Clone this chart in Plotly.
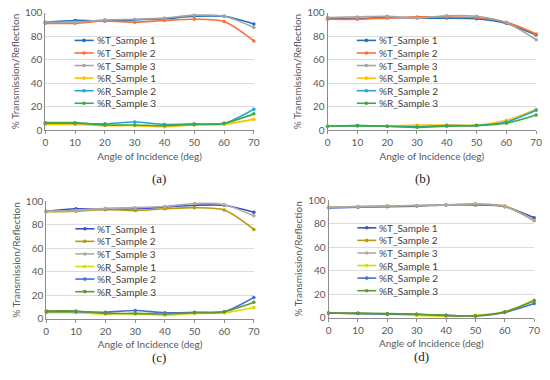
import plotly.graph_objects as go

angles = [0, 10, 20, 30, 40, 50, 60, 70]
series_names = ["%T_Sample 1", "%T_Sample 2", "%T_Sample 3",
                "%R_Sample 1", "%R_Sample 2", "%R_Sample 3"]
panel_labels = ["(a)", "(b)", "(c)", "(d)"]
y_ticks = [0, 20, 40, 60, 80, 100]
x_ticks = [0, 10, 20, 30, 40, 50, 60, 70]

# Panel (a)
a_T1 = [92, 93.5, 93, 94, 95, 97, 97, 90.5]
a_T2 = [91, 91, 93, 92, 93.5, 94.5, 92.5, 76]
a_T3 = [92, 92, 94, 94.5, 95.5, 98, 97, 87.5]
a_R1 = [5, 5, 4, 4, 3, 4.5, 5, 9.5]
a_R2 = [6, 6, 5.5, 7, 5, 5.5, 6, 18]
a_R3 = [6.5, 6.5, 4.5, 4.5, 4, 5, 6, 14]
# Panel (b)
b_T1 = [95, 95, 96, 95.5, 95.5, 95, 91, 81]
b_T2 = [94.5, 94.5, 95.5, 96.5, 96.5, 96, 92, 82]
b_T3 = [96, 96.5, 97, 95.5, 97.5, 97, 91.5, 77]
b_R1 = [3.5, 3.5, 3.5, 4.5, 4.5, 4.5, 8.5, 18]
b_R2 = [3.5, 4, 3.5, 3, 4, 4, 7, 17]
b_R3 = [3.5, 4, 3.5, 2.5, 3.5, 4, 6, 13]
# Panel (c)
c_T1 = [91.5, 93.5, 93, 93.5, 95, 96.5, 96.5, 90.5]
c_T2 = [91, 91.5, 93, 92, 93.5, 94.5, 92.5, 76]
c_T3 = [91.5, 92, 94, 94.5, 95.5, 98, 97, 87.5]
c_R1 = [5, 5, 4, 4, 3, 4.5, 5, 9.5]
c_R2 = [6, 6, 5.5, 7, 5, 5.5, 6, 18]
c_R3 = [6.5, 6.5, 4.5, 4.5, 4, 5, 6, 14]
# Panel (d)
d_T1 = [93.5, 94, 94.5, 95, 96, 96, 94.5, 85]
d_T2 = [94, 94.5, 95, 95.5, 96, 96.5, 95, 82.5]
d_T3 = [94, 94.5, 95, 95.5, 96, 97, 94.5, 83]
d_R1 = [4, 3.5, 3, 2, 1, 2, 5, 15]
d_R2 = [4, 3.5, 3, 3, 2, 1.5, 4.5, 12]
d_R3 = [4, 4, 3.5, 3, 2, 1.5, 5, 14.5]

panels = [
    [a_T1, a_T2, a_T3, a_R1, a_R2, a_R3],
    [b_T1, b_T2, b_T3, b_R1, b_R2, b_R3],
    [c_T1, c_T2, c_T3, c_R1, c_R2, c_R3],
    [d_T1, d_T2, d_T3, d_R1, d_R2, d_R3],
]

colors_ab = ["#2270B8", "#F8703A", "#A5A5A5", "#FFC000", "#22A6D6", "#3CAA44"]
colors_cd = ["#3E52C0", "#B8980E", "#ABABAB", "#D4DE00", "#4472D4", "#64962C"]
panel_colors = [colors_ab, colors_ab, colors_cd, colors_cd]

W, H = 550, 380
# plot area pixel boxes: (x0, x1, ytop, ybottom)
boxes = [
    (43, 255, 7, 128),
    (330, 542, 7, 128),
    (44, 255, 201, 322),
    (331, 540, 200, 321),
]

FONT = "Lato"
fig = go.Figure()
layout = dict(width=W, height=H, margin=dict(l=0, r=0, t=0, b=0),
              paper_bgcolor="white", plot_bgcolor="white", showlegend=False,
              font=dict(family=FONT, size=10, color="#595959"))
annotations = []
shapes = []

for p, data in enumerate(panels):
    x0, x1, yt, yb = boxes[p]
    sfx = "" if p == 0 else str(p + 1)
    xa, ya = "x" + sfx, "y" + sfx
    cols = panel_colors[p]
    for i, vals in enumerate(data):
        fig.add_trace(go.Scatter(
            x=angles, y=vals, mode="lines+markers", name=series_names[i],
            line=dict(color=cols[i], width=1.6, shape="spline", smoothing=0.8),
            marker=dict(color=cols[i], size=3.5),
            xaxis=xa, yaxis=ya, cliponaxis=False))
    layout["xaxis" + sfx] = dict(
        domain=[x0 / W, x1 / W], range=[0, 70], tickvals=x_ticks,
        anchor=ya, showgrid=False, zeroline=False, showline=True,
        linecolor="#8C8C8C", linewidth=1, ticks="outside", ticklen=3,
        tickcolor="#8C8C8C", tickfont=dict(size=10, color="#595959"),
        title=dict(text="Angle of Incidence (deg)", standoff=5,
                   font=dict(size=10, color="#595959")))
    layout["yaxis" + sfx] = dict(
        domain=[1 - yb / H, 1 - yt / H], range=[0, 100], tickvals=y_ticks,
        anchor=xa, showgrid=True, gridcolor="#DCDCDC", gridwidth=1,
        zeroline=False, showline=True, linecolor="#8C8C8C", linewidth=1,
        ticks="", tickfont=dict(size=10, color="#595959"),
        title=dict(text="% Transmission/Reflection", standoff=3,
                   font=dict(size=10, color="#595959")))
    # panel label
    annotations.append(dict(
        text=panel_labels[p], xref="paper", yref="paper",
        x=((x0 + x1) / 2) / W, y=1 - (yb + 50) / H, showarrow=False,
        font=dict(family="Liberation Serif", size=13, color="#222222")))
    # compact legend inside the plot area
    for i in range(6):
        yy = 0.765 - i * 0.107
        shapes.append(dict(type="line", xref=xa + " domain", yref=ya + " domain",
                           x0=0.14, x1=0.232, y0=yy, y1=yy,
                           line=dict(color=cols[i], width=1.6)))
        annotations.append(dict(
            text=series_names[i], xref=xa + " domain", yref=ya + " domain",
            x=0.236, y=yy, xanchor="left", yanchor="middle", showarrow=False,
            font=dict(size=10, color="#404040")))
        # legend marker dot
        shapes.append(dict(type="circle", xref=xa + " domain", yref=ya + " domain",
                           xsizemode="pixel", ysizemode="pixel",
                           xanchor=0.186, yanchor=yy,
                           x0=-1.8, x1=1.8, y0=-1.8, y1=1.8,
                           fillcolor=cols[i], line=dict(width=0)))

layout["annotations"] = annotations
layout["shapes"] = shapes
fig.update_layout(**layout)
fig.write_html("out.html", config={"displayModeBar": False},
               post_script="document.body.style.margin='0';"
                           "document.body.style.overflow='hidden';")
